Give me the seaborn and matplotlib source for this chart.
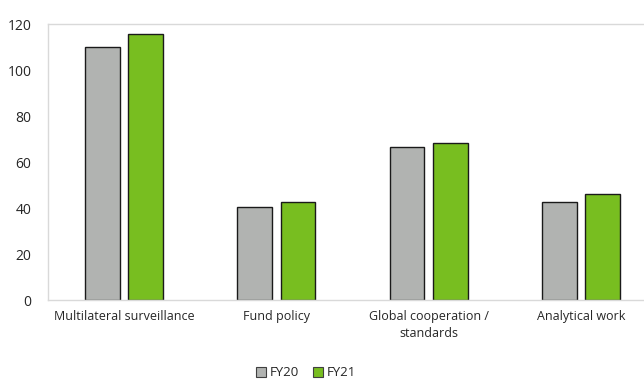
import matplotlib
matplotlib.use("Agg")
import matplotlib.pyplot as plt
import seaborn as sns
import pandas as pd
from matplotlib.patches import Patch

categories = ["Multilateral surveillance", "Fund policy", "Global cooperation /\nstandards", "Analytical work"]
fy20 = [110, 40.3, 66.5, 42.5]
fy21 = [115.5, 42.4, 68.2, 46.0]
series = ["FY20", "FY21"]
colors = ["#B1B3B1", "#78BE20"]
yticks = [0, 20, 40, 60, 80, 100, 120]

df = pd.DataFrame({
    "category": categories * 2,
    "value": fy20 + fy21,
    "series": [series[0]] * len(categories) + [series[1]] * len(categories),
})

sns.set_theme(style="white")
plt.rcParams["font.family"] = ["Open Sans", "DejaVu Sans"]

fig = plt.figure(figsize=(6.44, 3.79), dpi=100)
ax = fig.add_axes([48/644, 79/379, 609/644, 276/379])

sns.barplot(data=df, x="category", y="value", hue="series", order=categories,
            hue_order=series, palette=colors, saturation=1, width=0.568, gap=0.2,
            edgecolor="#1a1a1a", linewidth=1.0, ax=ax, legend=False)

ax.set_xlim(-0.5, len(categories) - 0.5)
ax.set_ylim(0, 120)
ax.set_yticks(yticks)
ax.set_yticklabels([str(v) for v in yticks])
ax.set_xlabel("")
ax.set_ylabel("")

grey = "#D9D9D9"
for s in ["left", "top", "bottom", "right"]:
    ax.spines[s].set_color(grey)
    ax.spines[s].set_linewidth(1.0)

ax.tick_params(axis="y", length=0, pad=12, labelsize=10, labelcolor="#262626")
ax.tick_params(axis="x", which="major", length=0, pad=7, labelsize=9, labelcolor="#262626")
for lbl in ax.get_xticklabels():
    lbl.set_linespacing(1.45)
ax.set_xticks([i + 0.5 for i in range(len(categories) - 1)], minor=True)
ax.tick_params(axis="x", which="minor", length=5, color=grey, width=1.0)

handles = [Patch(facecolor=c, edgecolor="#404040", linewidth=0.8, label=s) for c, s in zip(colors, series)]
fig.legend(handles=handles, loc="center", bbox_to_anchor=(306/644, 1 - 373/379), ncol=2,
           frameon=False, fontsize=9.5, handlelength=0.8, handleheight=0.8,
           handletextpad=0.3, columnspacing=1.0, labelcolor="#262626")

fig.savefig("out.png", dpi=100)
